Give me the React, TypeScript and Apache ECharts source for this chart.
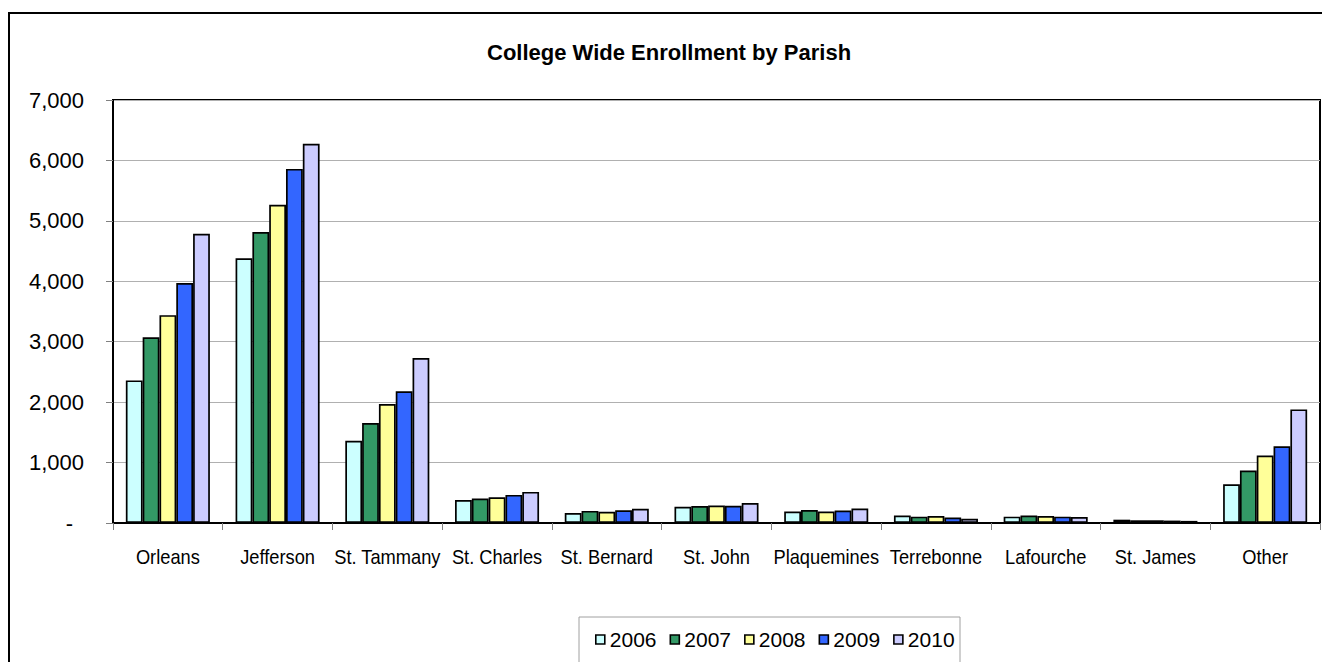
import React, { useEffect, useRef } from "react";
import * as echarts from "echarts";

const categories = ["Orleans", "Jefferson", "St. Tammany", "St. Charles", "St. Bernard", "St. John", "Plaquemines", "Terrebonne", "Lafourche", "St. James", "Other"];
const years = ["2006", "2007", "2008", "2009", "2010"];
const s2006 = [2360, 4380, 1360, 380, 165, 270, 190, 125, 105, 55, 640];
const s2007 = [3075, 4815, 1655, 405, 200, 280, 215, 105, 125, 45, 870];
const s2008 = [3440, 5265, 1970, 425, 185, 290, 190, 115, 115, 45, 1115];
const s2009 = [3970, 5860, 2180, 465, 210, 285, 205, 90, 105, 40, 1270];
const s2010 = [4785, 6275, 2730, 515, 235, 330, 240, 70, 100, 35, 1880];
const colors = ["#CCFFFF", "#339966", "#FFFF99", "#3366FF", "#CCCCFF"];

const FONT = "Liberation Sans, Arial, sans-serif";

export default function App() {
  const ref = useRef<HTMLDivElement>(null);
  useEffect(() => {
    if (!ref.current) return;
    const chart = echarts.init(ref.current, undefined, { renderer: "svg" });
    const seriesData = [s2006, s2007, s2008, s2009, s2010];
    const frame = [
      {
        type: "rect",
        id: "legendBox",
        shape: { x: 579, y: 617, width: 381, height: 60 },
        style: { fill: "none", stroke: "#a0a0a0", lineWidth: 1 },
        silent: true,
        z: -1,
      },
      {
        type: "rect",
        id: "frame",
        shape: { x: 9, y: 13, width: 1330, height: 670 },
        style: { fill: "none", stroke: "#000", lineWidth: 2 },
        silent: true,
      },
    ];
    chart.setOption({
      animation: false,
      backgroundColor: "#ffffff",
      title: {
        text: "College Wide Enrollment by Parish",
        left: 487,
        top: 41,
        padding: 0,
        textStyle: { fontFamily: FONT, fontSize: 22, fontWeight: "bold", color: "#000" },
      },
      legend: {
        data: years,
        left: 595,
        top: 629,
        padding: 0,
        itemWidth: 9,
        itemHeight: 9,
        itemGap: 13,
        icon: "rect",
        itemStyle: { borderColor: "#000", borderWidth: 1.6 },
        textStyle: { fontFamily: FONT, fontSize: 21, color: "#000" },
      },
      grid: {
        left: 113,
        right: 2,
        top: 100,
        bottom: 139,
        show: true,
        borderColor: "#000",
        borderWidth: 2,
        containLabel: false,
      },
      xAxis: {
        type: "category",
        data: categories,
        axisLine: { lineStyle: { color: "#000", width: 2 } },
        axisTick: { show: true, length: 7, lineStyle: { color: "#808080" } },
        axisLabel: { show: false },
      },
      yAxis: {
        type: "value",
        min: 0,
        max: 7000,
        interval: 1000,
        axisLine: { show: true, lineStyle: { color: "#000", width: 2 } },
        axisTick: { show: true, length: 7, lineStyle: { color: "#808080" } },
        splitLine: { lineStyle: { color: "#b0b0b0", width: 1 } },
        axisLabel: {
          margin: 29,
          color: "#000",
          fontFamily: FONT,
          fontSize: 22,
          formatter: (v: number) => (v === 0 ? "{z|-}" : v.toLocaleString("en-US")),
          rich: {
            z: { padding: [0, 11, 0, 0], fontFamily: FONT, fontSize: 22, color: "#000" },
          },
        },
      },
      series: years.map((y, i) => ({
        name: y,
        type: "bar",
        data: seriesData[i],
        barGap: "0%",
        barCategoryGap: "23.4%",
        itemStyle: { color: colors[i], borderColor: "#000", borderWidth: 1.7 },
      })),
      graphic: frame,
    });
    const labels = categories.map((c, i) => {
      const px = chart.convertToPixel({ xAxisIndex: 0 }, c) as number;
      return {
        type: "text",
        id: "cat" + i,
        x: px,
        y: 557,
        scaleX: 0.87,
        silent: true,
        style: {
          text: c,
          x: 0,
          y: 0,
          align: "center",
          verticalAlign: "middle",
          fontFamily: FONT,
          fontSize: 21,
          fill: "#000",
        },
      };
    });
    chart.setOption({ graphic: [...frame, ...labels] });
    return () => chart.dispose();
  }, []);
  return <div ref={ref} style={{ position: "fixed", left: 0, top: 0, width: 1322, height: 662 }} />;
}
